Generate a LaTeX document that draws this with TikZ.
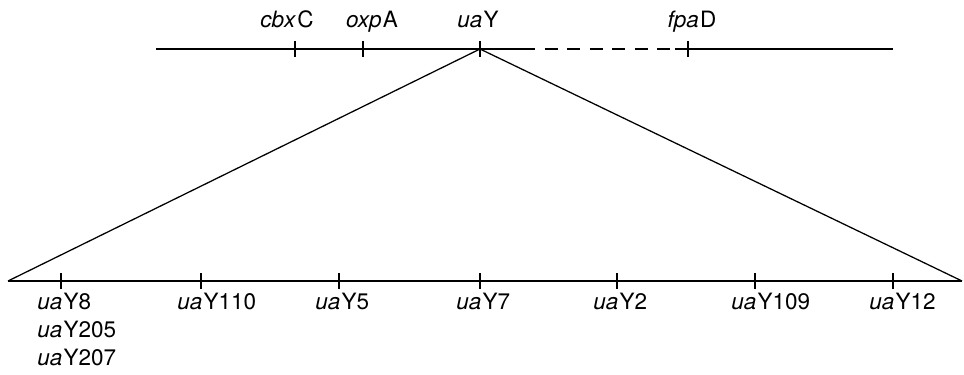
\documentclass[tikz,border=0pt]{standalone}
\usepackage{fontspec}
\setmainfont{TeX Gyre Heros}
\usetikzlibrary{positioning}

\begin{document}
\begin{tikzpicture}[x=0.025cm, y=-0.025cm,
  mapline/.style={line width=1.7pt},
  spread/.style={line width=0.9pt},
  tickmark/.style={line width=1.2pt},
  genelab/.style={font=\fontsize{16}{20}\selectfont, inner sep=0pt, align=left},
  every node/.style={font=\fontsize{16}{20}\selectfont}
]
  \useasboundingbox (0,0) rectangle (964,374);

  % chromosome map
  \coordinate (mapL) at (156,49);
  \coordinate (mapR) at (893,49);
  \coordinate (gapL) at (535,49);
  \coordinate (gapR) at (675,49);
  \coordinate (cbx) at (295,49);
  \coordinate (oxp) at (363,49);
  \coordinate (uaY) at (480,49);
  \coordinate (fpa) at (688,49);
  \draw[mapline] (mapL) -- (gapL);
  \draw[mapline, dash pattern=on 9pt off 7pt] ([xshift=7pt]gapL) -- (gapR);
  \draw[mapline] (gapR) -- (mapR);
  \foreach \t in {cbx, oxp, uaY, fpa}
    \draw[tickmark] (\t) ++(0,-8) -- ++(0,16);

  \node[genelab, anchor=base] (cbxlab) at (287,28) {\textit{cbx}\kern1pt C};
  \node[genelab, anchor=base] (oxplab) at (372,28) {\textit{oxp}\kern1pt A};
  \node[genelab, anchor=base] (uaYlab) at (478,28) {\textit{ua}\kern1pt Y};
  \node[genelab, anchor=base] (fpalab) at (692,28) {\textit{fpa}\kern1pt D};

  % expanded uaY region
  \coordinate (fineL) at (8,281);
  \coordinate (fineR) at (962,281);
  \draw[spread] (fineL) -- (uaY) -- (fineR);
  \draw[mapline] (fineL) -- (fineR);
  \foreach \x/\lab in {61/{\textit{ua}\kern1pt Y8\\\textit{ua}\kern1pt Y205\\\textit{ua}\kern1pt Y207},
                       201/{\textit{ua}\kern1pt Y110}, 339/{\textit{ua}\kern1pt Y5},
                       480/{\textit{ua}\kern1pt Y7}, 617/{\textit{ua}\kern1pt Y2},
                       755/{\textit{ua}\kern1pt Y109}, 893/{\textit{ua}\kern1pt Y12}} {
    \coordinate (m\x) at (\x,281);
    \draw[tickmark] (m\x) ++(0,-8) -- ++(0,16);
    \node[genelab, anchor=north west] (lab\x) at ([xshift=-24*0.025cm]\x,293) {\lab};
  }
\end{tikzpicture}
\end{document}
